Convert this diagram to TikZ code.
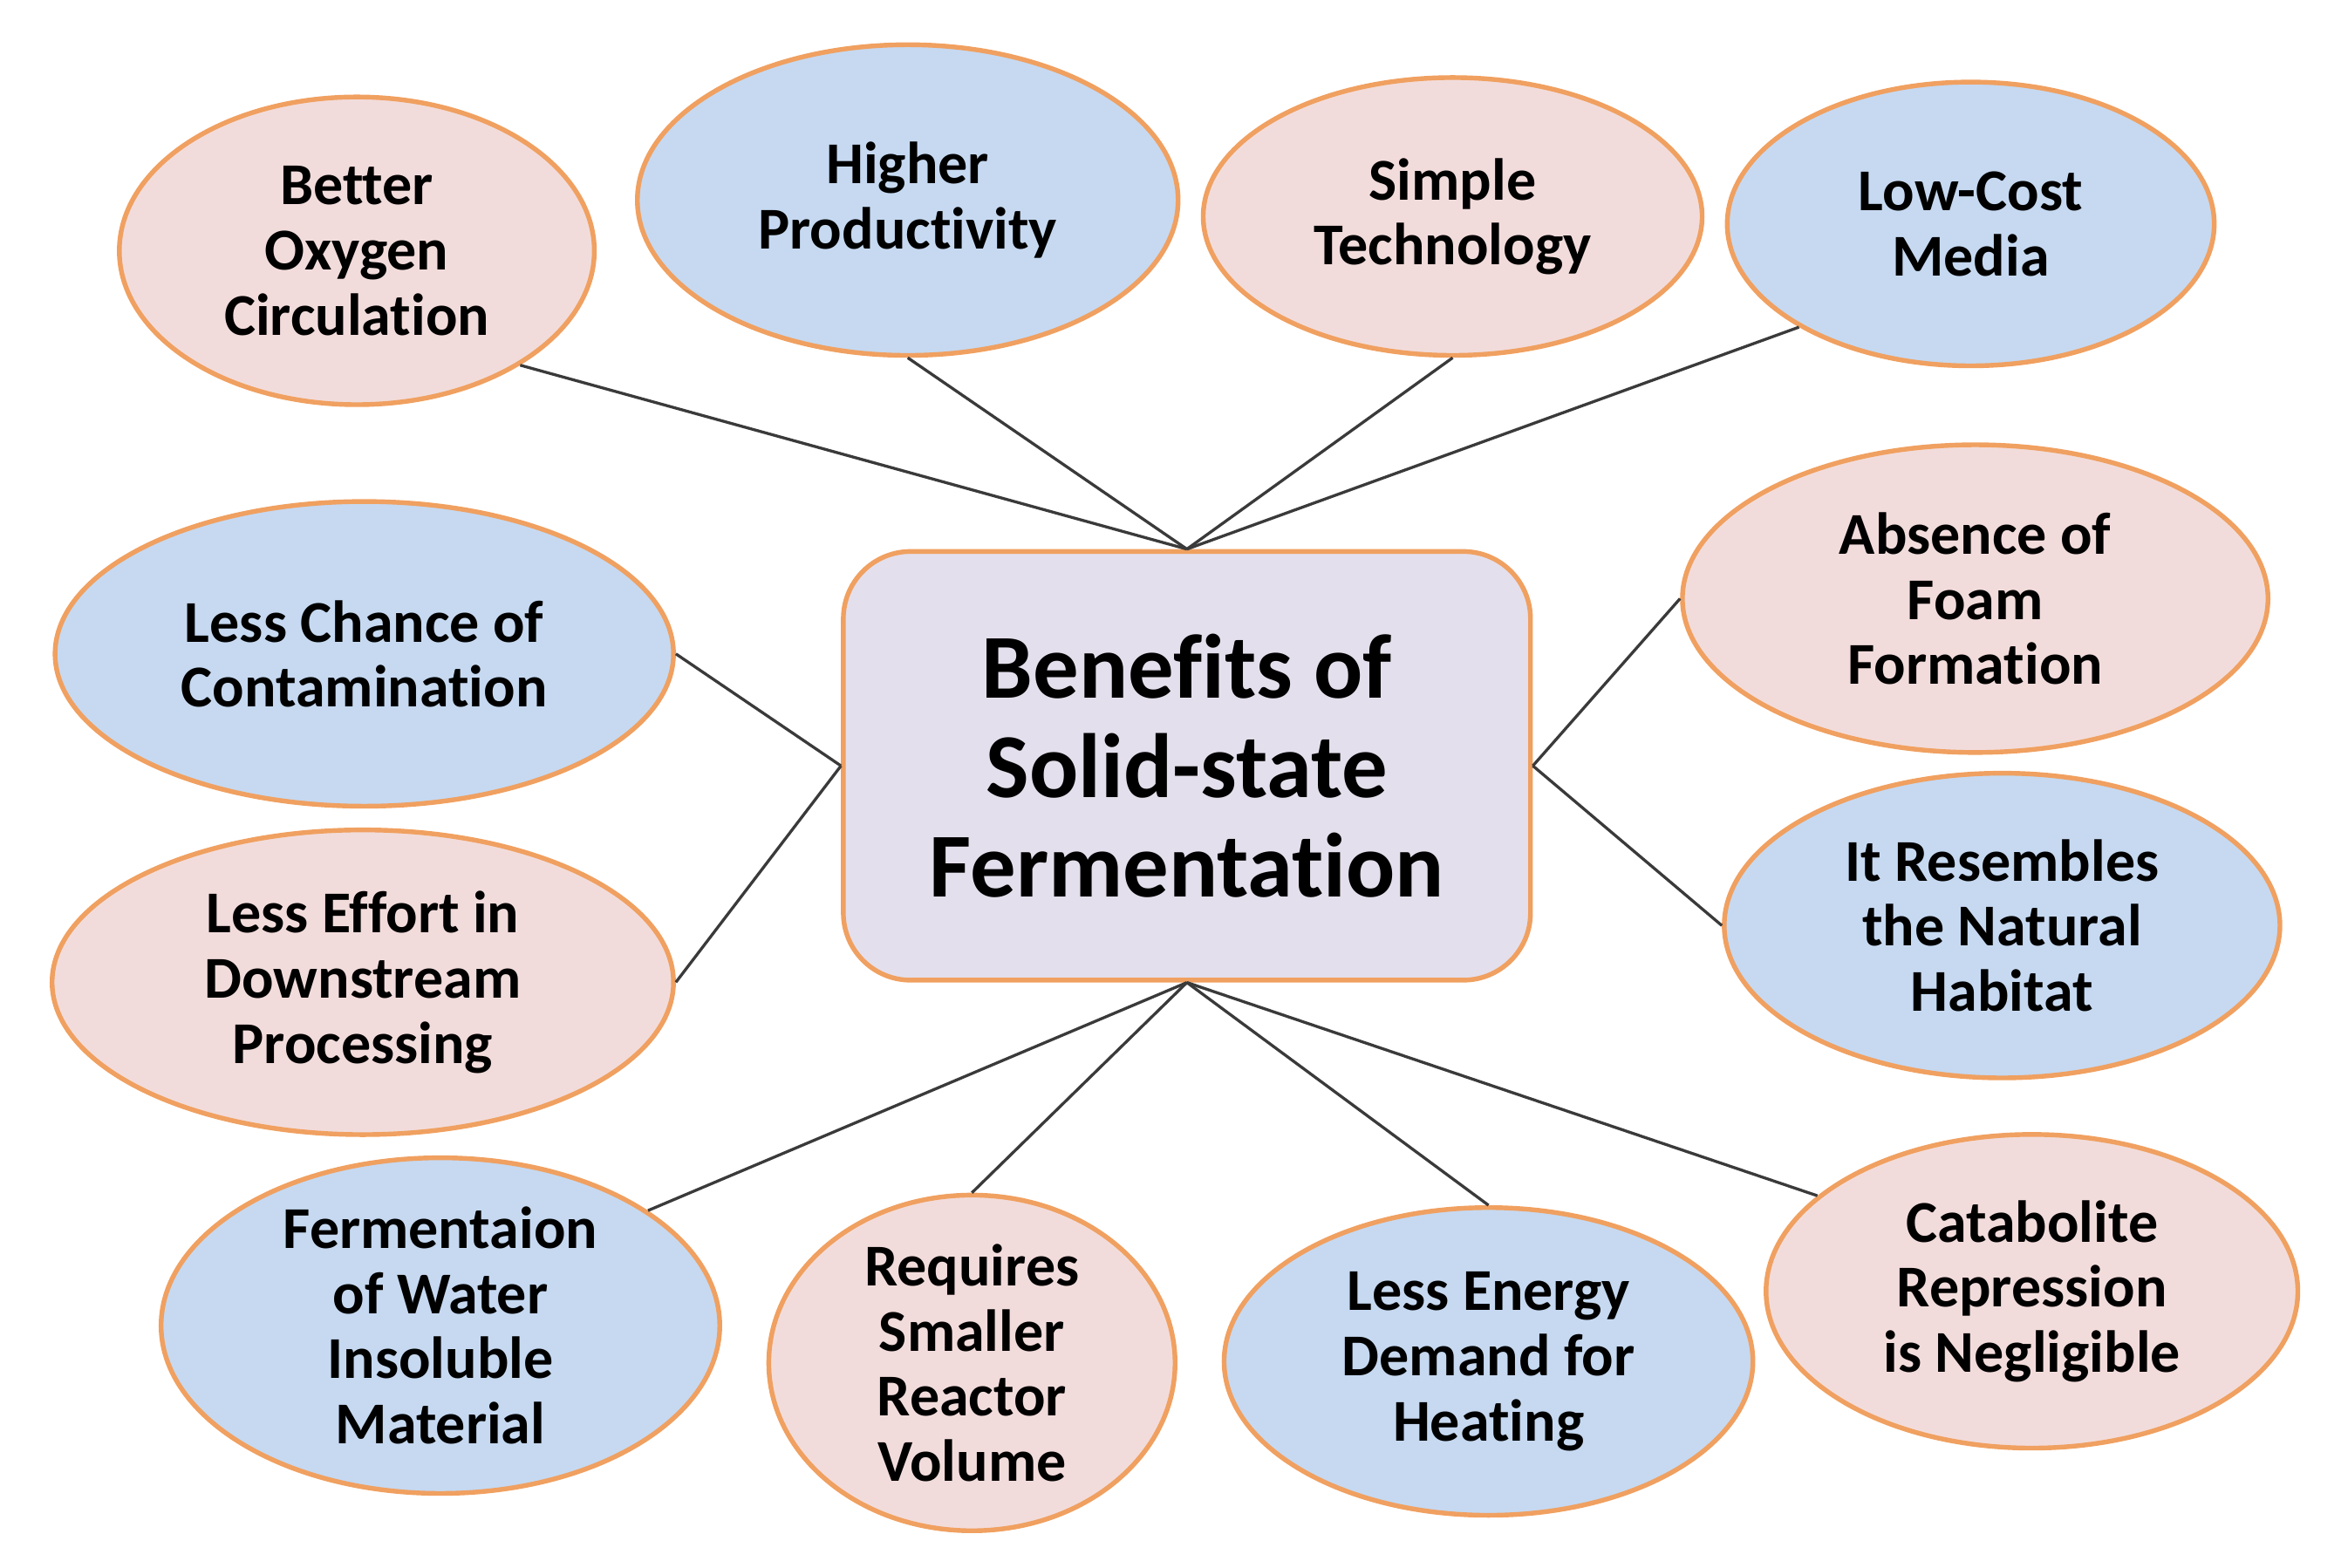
\documentclass[tikz,border=0pt]{standalone}
\usepackage{fontspec}
\setmainfont{Carlito}[Ligatures={NoCommon}]
\usetikzlibrary{shapes.geometric}
\definecolor{pinkfill}{HTML}{F2DCDB}
\definecolor{bluefill}{HTML}{C6D9F1}
\definecolor{orangeline}{HTML}{F0A060}
\definecolor{centerfill}{HTML}{E4DFEC}
\definecolor{linkcol}{HTML}{3A3A3A}
\tikzset{
  bubble/.style={ellipse, draw=orangeline, line width=0.9pt, inner sep=0pt, align=center,
    font=\fontsize{11.3}{12.4}\selectfont\bfseries},
  pinkb/.style={bubble, fill=pinkfill},
  blueb/.style={bubble, fill=bluefill},
  hub/.style={rectangle, rounded corners=0.45cm, draw=orangeline, line width=0.9pt, fill=centerfill,
    align=center, minimum width=4.6cm, minimum height=2.87cm,
    font=\fontsize{17.4}{18.9}\selectfont\bfseries},
  link/.style={draw=linkcol, line width=0.55pt}
}
\begin{document}
\begin{tikzpicture}[x=0.01cm, y=-0.01cm]
\useasboundingbox (0,0) rectangle (1568,1050);
\node[hub] (c) at (795,513) {Benefits of\\Solid-state\\Fermentation};
\node[pinkb, minimum width=3.18cm, minimum height=2.06cm] (bo) at (239,168) {Better\\Oxygen\\Circulation};
\node[blueb, minimum width=3.62cm, minimum height=2.08cm] (hp) at (608,134) {Higher\\Productivity};
\node[pinkb, minimum width=3.34cm, minimum height=1.86cm] (st) at (973,145) {Simple\\Technology};
\node[blueb, minimum width=3.26cm, minimum height=1.90cm] (lc) at (1320,150) {Low-Cost\\Media};
\node[blueb, minimum width=4.14cm, minimum height=2.04cm] (cc) at (244,438) {Less Chance of\\Contamination};
\node[pinkb, minimum width=4.16cm, minimum height=2.04cm] (ed) at (243,658) {Less Effort in\\Downstream\\Processing};
\node[pinkb, minimum width=3.92cm, minimum height=2.06cm] (af) at (1323,401) {Absence of\\Foam\\Formation};
\node[blueb, minimum width=3.72cm, minimum height=2.04cm] (rn) at (1341,620) {It Resembles\\the Natural\\Habitat};
\node[blueb, minimum width=3.74cm, minimum height=2.06cm] (fw) at (295,888) {Fermentaion\\of Water\\Insoluble\\Material};
\node[pinkb, minimum width=2.72cm, minimum height=2.10cm] (rs) at (651,913) {Requires\\Smaller\\Reactor\\Volume};
\node[blueb, minimum width=3.54cm, minimum height=2.06cm] (eh) at (997,912) {Less Energy\\Demand for\\Heating};
\node[pinkb, minimum width=3.56cm, minimum height=2.10cm] (cr) at (1361,865) {Catabolite\\Repression\\is Negligible};
\draw[link] (c.north) -- (bo.-35);
\draw[link] (c.north) -- (hp.south);
\draw[link] (c.north) -- (st.south);
\draw[link] (c.north) -- (lc.211);
\draw[link] (c.west) -- (cc.east);
\draw[link] (c.west) -- (ed.east);
\draw[link] (c.east) -- (af.west);
\draw[link] (c.east) -- (rn.west);
\draw[link] (c.south) -- (fw.29);
\draw[link] (c.south) -- (rs.north);
\draw[link] (c.south) -- (eh.north);
\draw[link] (c.south) -- (cr.156);
\end{tikzpicture}
\end{document}
